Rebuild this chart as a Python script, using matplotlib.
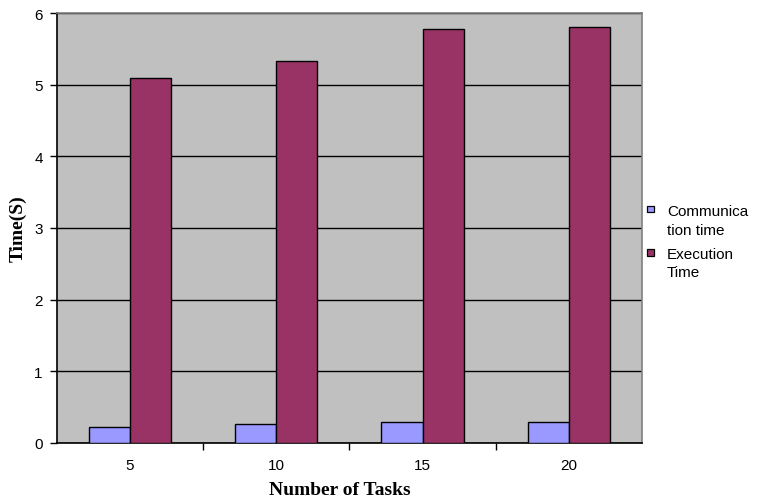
import matplotlib
matplotlib.use("Agg")
import matplotlib.pyplot as plt
from matplotlib.patches import Rectangle
import numpy as np

categories = ["5", "10", "15", "20"]
communication_time = [0.22, 0.27, 0.29, 0.29]
execution_time = [5.10, 5.33, 5.78, 5.80]
y_ticks = [0, 1, 2, 3, 4, 5, 6]

comm_color = "#9999FF"
exec_color = "#993366"

fig = plt.figure(figsize=(7.58, 5.02), dpi=100)
ax = fig.add_axes([56.7 / 758, 58 / 502, (642 - 56.7) / 758, (444 - 14) / 502])
ax.set_facecolor("#C0C0C0")

x = np.arange(len(categories))
w = 0.282
ax.bar(x - w / 2, communication_time, width=w, color=comm_color,
       edgecolor="black", linewidth=1.0, zorder=3)
ax.bar(x + w / 2, execution_time, width=w, color=exec_color,
       edgecolor="black", linewidth=1.0, zorder=3)

ax.set_xlim(-0.5, len(categories) - 0.5)
ax.set_ylim(0, 6)

tick_font = dict(fontsize=11, family="Liberation Sans")
ax.set_yticks(y_ticks)
ax.set_yticklabels([str(t) for t in y_ticks], **tick_font)
ax.yaxis.grid(True, color="black", linewidth=1.0, zorder=1)
ax.set_axisbelow(True)

ax.set_xticks(x)
ax.set_xticklabels(categories, **tick_font)
ax.set_xticks(np.arange(-0.5, len(categories) + 0.5, 1.0)[1:-1], minor=True)
ax.tick_params(axis="x", which="major", length=0, pad=11)
ax.tick_params(axis="x", which="minor", length=5, width=1.0, direction="out")
ax.tick_params(axis="y", which="major", length=5, width=1.0, direction="out", pad=5)

for side in ("left", "bottom"):
    ax.spines[side].set_color("black")
    ax.spines[side].set_linewidth(1.2)
for side in ("top", "right"):
    ax.spines[side].set_color("#808080")
    ax.spines[side].set_linewidth(1.2)

label_font = dict(fontsize=14, fontweight="bold", family="Liberation Serif")
ax.set_xlabel("Number of Tasks", **label_font)
ax.xaxis.set_label_coords((340 - 56.7) / (642 - 56.7), -(491 - 444) / (444 - 14))
ax.xaxis.label.set_va("center")
ax.set_ylabel("Time(S)", **label_font)
ax.yaxis.set_label_coords(-(56.7 - 18) / (642 - 56.7), 0.5)
ax.yaxis.label.set_va("center")

# legend drawn in figure pixel coordinates
H = 502.0
legend_items = [
    (comm_color, 206.7, ["Communica", "tion time"], [211.5, 231.0]),
    (exec_color, 250.0, ["Execution", "Time"], [255.0, 273.5]),
]
for color, top, lines, centers in legend_items:
    fig.patches.append(Rectangle((647.3 / 758, 1 - (top + 6.7) / H), 6.7 / 758, 6.7 / H,
                                 transform=fig.transFigure, facecolor=color,
                                 edgecolor="black", linewidth=0.9))
    for text, cy in zip(lines, centers):
        fig.text(667 / 758, 1 - cy / H, text, fontsize=11, family="Liberation Sans",
                 va="center", ha="left")

fig.savefig("out.png", dpi=100)
